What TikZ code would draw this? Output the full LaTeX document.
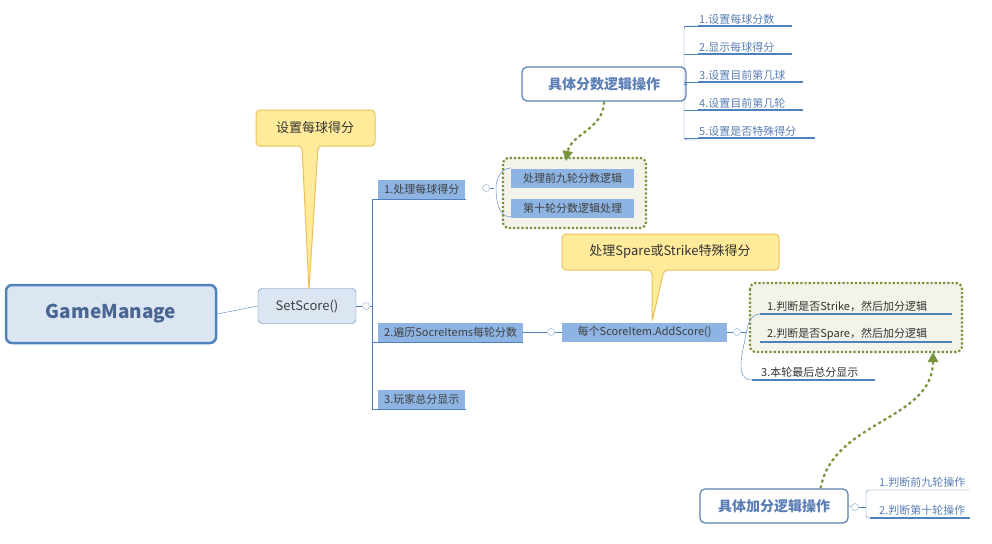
\documentclass[tikz,border=0pt]{standalone}
\usepackage{fontspec}
\setmainfont{Noto Sans CJK SC}
\usetikzlibrary{positioning, arrows.meta}
\definecolor{lineblue}{HTML}{4F81BD}
\definecolor{itemblue}{HTML}{8DB4E2}
\definecolor{paleblue}{HTML}{DCE6F2}
\definecolor{headblue}{HTML}{5B7FB5}
\definecolor{calloutfill}{HTML}{FFEB99}
\definecolor{calloutline}{HTML}{EBC15A}
\definecolor{olive}{HTML}{77933C}
\definecolor{olivebg}{HTML}{F3F3EA}
\tikzset{
  itembox/.style={fill=itemblue, minimum height=19pt, inner xsep=6pt, font=\fontsize{11}{12}\selectfont, anchor=west, text=black!75},
  sub/.style={anchor=south west, inner sep=1pt, font=\fontsize{11}{12}\selectfont, text=headblue},
  uline/.style={lineblue, line width=1.6pt},
  branch/.style={lineblue, thin},
  toggle/.style={circle, draw=lineblue!70, inner sep=0pt, minimum size=7pt, fill=white},
  headbox/.style={draw=headblue, line width=1.2pt, rounded corners=5pt, fill=white, text=headblue, font=\bfseries\fontsize{14}{16}\selectfont, minimum height=34pt},
  callout/.style={fill=calloutfill, draw=calloutline, line width=1pt, rounded corners=4pt},
  groupbox/.style={draw=olive, dotted, line width=2.2pt, fill=olivebg, rounded corners=6pt},
  linkarrow/.style={olive, dashed, line width=2.2pt, -{Triangle[length=10pt,width=10pt]}}
}
\begin{document}
\begin{tikzpicture}[x=1pt, y=-1pt]
\useasboundingbox[fill=white] (0,0) rectangle (992,543);

% group frames
\draw[groupbox] (503,158) rectangle (646,228);
\draw[groupbox] (750,283) rectangle (962,352);

% root and first level
\node[draw=lineblue, line width=2.5pt, fill=paleblue, rounded corners=6pt, minimum width=210pt, minimum height=58pt, font=\bfseries\fontsize{19}{22}\selectfont, text=headblue!80!black] (game) at (111,314) {GameManage};
\node[draw=lineblue, fill=paleblue, rounded corners=4pt, minimum width=98pt, minimum height=35pt, font=\fontsize{13}{15}\selectfont, text=black!75] (score) at (307,306) {SetScore()};
\draw[branch] (game.east) -- (score.west);
\node[toggle] (t0) at (366,306) {};
\draw[branch] (score.east) -- (t0);

% callout over SetScore
\draw[callout] (256,110) -- (375,110) -- (375,146) -- (318,146) -- (309,290) -- (302,146) -- (256,146) -- cycle;
\node[font=\fontsize{13}{15}\selectfont, text=black!80] (tip1) at (315,128) {设置每球得分};

% first level items
\node[itembox] (i1) at (378,189) {1.处理每球得分};
\node[itembox] (i2) at (378,332) {2.遍历SocreItems每轮分数};
\node[itembox] (i3) at (378,399) {3.玩家总分显示};
\draw[branch] (t0.east) -- (372,306) (372,200) -- (372,410);
\foreach \n in {i1, i2, i3}
  \draw[branch] (372,0 |- \n.south) -- (\n.south east);

% item 1 children
\node[toggle] (t1) at (486,188) {};
\node[itembox, minimum width=123pt] (a1) at (511,178) {处理前九轮分数逻辑};
\node[itembox, minimum width=123pt] (a2) at (511,208) {第十轮分数逻辑处理};
\draw[branch] (t1.east) -- (494,188);
\draw[branch] (511,168) to[out=180, in=90] (496,188) to[out=270, in=180] (511,217);

% detail of ball scoring
\node[headbox, minimum width=164pt] (ballops) at (604,84) {具体分数逻辑操作};
\draw[linkarrow] (ballops.south) to[out=270, in=80] (566,161);
\foreach \t [count=\i] in {1.设置每球分数, 2.显示每球得分, 3.设置目前第几球, 4.设置目前第几轮, 5.设置是否特殊得分}
  \node[sub] (b\i) at (698,26+28*\i-28) {\t};
\draw[branch] (ballops.east) -- (684,84);
\draw[branch, rounded corners=3pt] (698,26) -- (684,26) -- (684,140) -- (698,140);
\foreach \i/\w in {1/792, 2/792, 3/803, 4/803, 5/815} {
  \draw[uline] (698,26+28*\i-28) -- (\w,26+28*\i-28);
  \draw[branch] (684,26+28*\i-28) -- (698,26+28*\i-28);
}

% item 2 child
\node[toggle] (t2) at (551,332) {};
\node[itembox, minimum width=165pt] (add) at (562,332) {每个ScoreItem.AddScore()};
\draw[branch] (i2.east) -- (t2);
\draw[branch] (t2.east) -- (add.west);

% callout over AddScore
\draw[callout] (562,234) -- (779,234) -- (779,270) -- (664,270) -- (652,322) -- (652,270) -- (562,270) -- cycle;
\node[font=\fontsize{13}{15}\selectfont, text=black!80] (tip2) at (670,252) {处理Spare或Strike特殊得分};

% AddScore children
\node[toggle] (t3) at (737,332) {};
\draw[branch] (add.east) -- (t3);
\node[sub, text=black!80] (c1) at (766,313) {1.判断是否Strike，然后加分逻辑};
\node[sub, text=black!80] (c2) at (766,341) {2.判断是否Spare，然后加分逻辑};
\node[sub, text=black!80] (c3) at (760,379) {3.本轮最后总分显示};
\draw[uline] (760,314) -- (952,314);
\draw[uline] (760,342) -- (952,342);
\draw[uline] (752,380) -- (875,380);
\draw[branch] (760,314) to[out=180, in=80] (746,334) to[out=260, in=180] (752,380);
\draw[branch] (t3.east) -- (746,332);

% detail of bonus scoring
\node[headbox, minimum width=148pt] (bonusops) at (774,506) {具体加分逻辑操作};
\draw[linkarrow] (bonusops.north east) ++(-28,0) to[out=80, in=270] (933,352);
\node[toggle] (t4) at (855,507) {};
\draw[branch] (bonusops.east) -- (t4);
\node[sub] (d1) at (878,489) {1.判断前九轮操作};
\node[sub] (d2) at (878,517) {2.判断第十轮操作};
\draw[branch] (t4.east) -- (866,507);
\draw[branch, rounded corners=3pt] (970,490) -- (866,490) -- (866,518) -- (870,518);
\draw[uline] (870,518) -- (970,518);
\end{tikzpicture}
\end{document}
